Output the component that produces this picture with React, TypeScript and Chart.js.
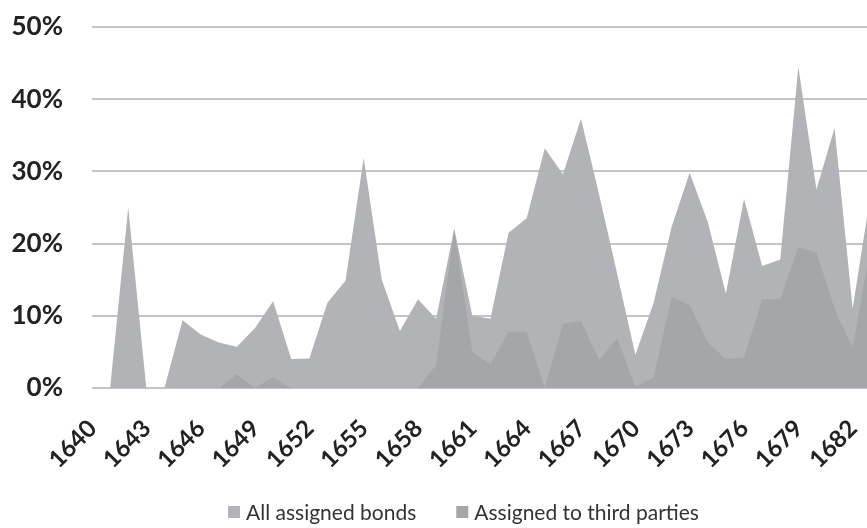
import React, { useEffect, useRef } from "react";
import { Chart, registerables } from "chart.js";

Chart.register(...registerables);

// Years on the category axis (data visible through 1683; chart continues past the crop)
const years: string[] = [];
for (let y = 1640; y <= 1685; y++) years.push(String(y));

// Year labels shown on the axis
const tickYears: string[] = [
  "1640", "1643", "1646", "1649", "1652", "1655", "1658", "1661",
  "1664", "1667", "1670", "1673", "1676", "1679", "1682",
];

// Share of bonds assigned (%), 1640..1683
const allAssignedBonds: (number | null)[] = [
  0, 0, 25, 0, 0, 9.4, 7.4, 6.3, 5.7, 8.3,
  12.0, 4.0, 4.1, 11.8, 14.9, 31.9, 15.0, 7.9, 12.3, 9.6,
  22.1, 10.0, 9.6, 21.5, 23.5, 33.2, 29.6, 37.3, 26.8, 15.8,
  4.6, 11.7, 22.3, 29.8, 23.0, 13.1, 26.2, 16.9, 17.8, 44.5,
  27.5, 36.0, 11.0, 27.0, null, null,
];

const assignedToThirdParties: (number | null)[] = [
  0, 0, 0, 0, 0, 0, 0, 0, 1.9, 0,
  1.5, 0, 0, 0, 0, 0, 0, 0, 0, 3.2,
  21.9, 5.0, 3.3, 7.8, 7.8, 0, 8.9, 9.3, 3.9, 6.9,
  0.2, 1.4, 12.6, 11.5, 6.3, 4.0, 4.2, 12.3, 12.3, 19.5,
  18.8, 11.0, 5.5, 20.0, null, null,
];

const seriesNames = ["All assigned bonds", "Assigned to third parties"];
const seriesColors = ["rgb(178,179,183)", "rgb(165,166,170)"];
const yTicks = [0, 10, 20, 30, 40, 50];

// Rotated (-45°) year labels under the category axis
const xLabelPlugin = {
  id: "rotatedYearLabels",
  afterDraw(chart: any) {
    const ctx = chart.ctx;
    const xs = chart.scales.x;
    ctx.save();
    ctx.font = "bold 24px Lato";
    ctx.fillStyle = "#222222";
    ctx.textAlign = "right";
    ctx.textBaseline = "alphabetic";
    tickYears.forEach((yr) => {
      const idx = years.indexOf(yr);
      const px = xs.getPixelForValue(idx);
      ctx.save();
      ctx.translate(px + 6, xs.top + 42);
      ctx.rotate(-Math.PI / 4);
      ctx.fillText(yr, 0, 0);
      ctx.restore();
    });
    ctx.restore();
  },
};

const legendPlugin = {
  id: "customLegend",
  afterDraw(chart: any) {
    const ctx = chart.ctx;
    ctx.save();
    ctx.font = "21px Lato";
    ctx.textBaseline = "middle";
    const box = 12;
    const gap = 6;
    const itemGap = 40;
    const widths = seriesNames.map((n) => box + gap + ctx.measureText(n).width);
    const total = widths.reduce((a, b) => a + b, 0) + itemGap * (widths.length - 1);
    let x = chart.width / 2 - total / 2;
    const y = 512;
    seriesNames.forEach((n, i) => {
      ctx.fillStyle = seriesColors[i];
      ctx.fillRect(x, y - box / 2, box, box);
      ctx.fillStyle = "#333333";
      ctx.textAlign = "left";
      ctx.fillText(n, x + box + gap, y + 1);
      x += widths[i] + itemGap;
    });
    ctx.restore();
  },
};

export default function App() {
  const ref = useRef<HTMLCanvasElement | null>(null);
  useEffect(() => {
    if (!ref.current) return;
    const chart = new Chart(ref.current, {
      type: "line",
      data: {
        labels: years,
        datasets: [
          {
            label: seriesNames[0],
            data: allAssignedBonds,
            backgroundColor: seriesColors[0],
            borderColor: seriesColors[0],
            borderWidth: 0,
            pointRadius: 0,
            fill: "origin",
            tension: 0,
            order: 1,
          },
          {
            label: seriesNames[1],
            data: assignedToThirdParties,
            backgroundColor: seriesColors[1],
            borderColor: seriesColors[1],
            borderWidth: 0,
            pointRadius: 0,
            fill: "origin",
            tension: 0,
            order: 0,
          },
        ],
      },
      options: {
        responsive: false,
        animation: false,
        layout: { padding: { left: 0, right: 20, top: 27, bottom: 0 } },
        plugins: {
          legend: { display: false },
          tooltip: { enabled: false },
        },
        scales: {
          x: {
            type: "category",
            grid: { display: false, drawTicks: false },
            border: { display: false },
            ticks: { display: false, autoSkip: false },
            afterFit(scale: any) {
              scale.height = 140;
            },
          },
          y: {
            min: 0,
            max: 50,
            afterBuildTicks(scale: any) {
              scale.ticks = yTicks.map((v) => ({ value: v }));
            },
            grid: {
              color: "#c4c4c4",
              lineWidth: 2,
              drawTicks: true,
              tickLength: 26,
              tickColor: "rgba(0,0,0,0)",
            },
            border: { display: false },
            ticks: {
              padding: 3,
              color: "#222222",
              font: { family: "Lato", size: 26, weight: "bold" },
              callback: (v: any) => v + "%",
            },
            afterFit(scale: any) {
              scale.width = 92;
            },
          },
        },
      },
      plugins: [xLabelPlugin, legendPlugin],
    });
    return () => chart.destroy();
  }, []);
  return (
    <div
      style={{
        position: "fixed",
        left: 0,
        top: 0,
        width: 867,
        height: 528,
        overflow: "hidden",
        background: "#ffffff",
      }}
    >
      <canvas ref={ref} width={927} height={528} style={{ width: 927, height: 528, display: "block" }} />
    </div>
  );
}
